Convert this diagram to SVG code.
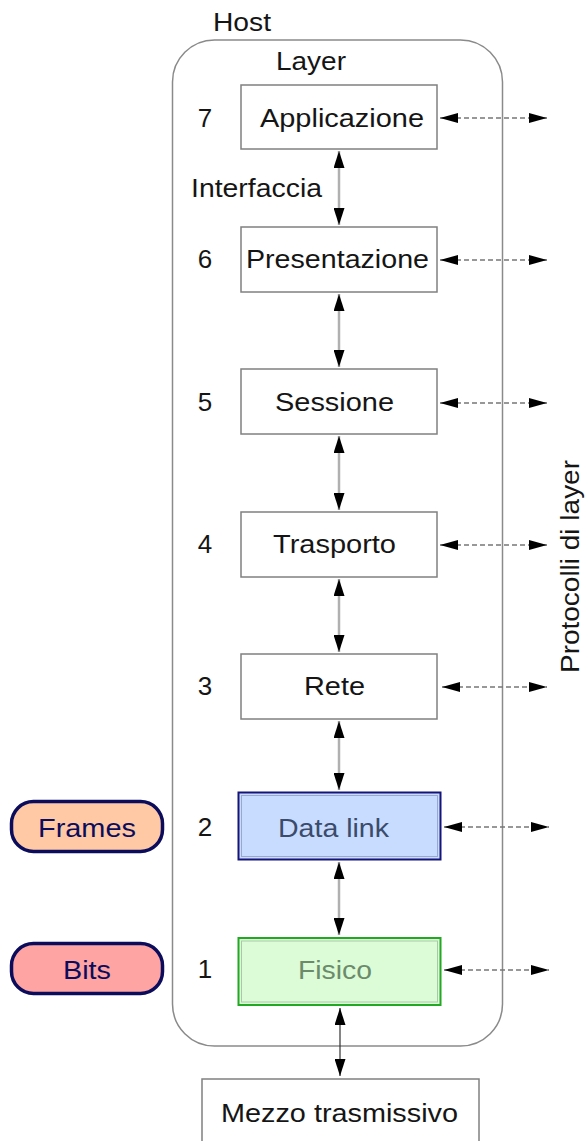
<svg xmlns="http://www.w3.org/2000/svg" width="587" height="1141" viewBox="0 0 587 1141">
<style>
text{font-family:"Liberation Sans",Arial,Helvetica,sans-serif;font-size:26px;fill:#151515}
.box{fill:#fff;stroke:#808080;stroke-width:1.5}
.num{text-anchor:middle}
.vline{stroke:#b0b0b0;stroke-width:2.5;fill:none}
.hline{stroke:#777;stroke-width:1.6;stroke-dasharray:5 3;fill:none}
.pill{stroke:#0c0c5c;stroke-width:3.5}
</style>
<defs>
<marker id="ah" viewBox="0 0 17 11" refX="17" refY="5.5" markerWidth="17" markerHeight="11" markerUnits="userSpaceOnUse" orient="auto-start-reverse">
<path d="M0,0 L17,5.5 L0,11 z" fill="#000"/>
</marker>
<marker id="hh" viewBox="0 0 18 10" refX="18" refY="5" markerWidth="18" markerHeight="10" markerUnits="userSpaceOnUse" orient="auto-start-reverse">
<path d="M0,0 L18,5 L0,10 z" fill="#000"/>
</marker>
</defs>
<rect width="587" height="1141" fill="#fff"/>

<g id="host">
<rect x="172.5" y="40" width="330" height="1006" rx="42" ry="42" fill="none" stroke="#8a8a8a" stroke-width="1.5"/>
<text x="213" y="31" textLength="58" lengthAdjust="spacingAndGlyphs">Host</text>
<text x="276" y="70" textLength="70" lengthAdjust="spacingAndGlyphs">Layer</text>
<text x="191" y="197" textLength="131" lengthAdjust="spacingAndGlyphs">Interfaccia</text>
</g>

<g id="protocolli">
<text transform="translate(579,673) rotate(-90)" textLength="213" lengthAdjust="spacingAndGlyphs">Protocolli di layer</text>
</g>

<g id="connectors">
<line class="vline" x1="339" y1="151" x2="339" y2="225" marker-start="url(#ah)" marker-end="url(#ah)"/>
<line class="vline" x1="339" y1="294" x2="339" y2="367" marker-start="url(#ah)" marker-end="url(#ah)"/>
<line class="vline" x1="339" y1="436" x2="339" y2="510" marker-start="url(#ah)" marker-end="url(#ah)"/>
<line class="vline" x1="339" y1="579" x2="339" y2="652" marker-start="url(#ah)" marker-end="url(#ah)"/>
<line class="vline" x1="339" y1="721" x2="339" y2="790" marker-start="url(#ah)" marker-end="url(#ah)"/>
<line class="vline" x1="339" y1="862" x2="339" y2="935" marker-start="url(#ah)" marker-end="url(#ah)"/>
<line x1="340" y1="1008" x2="340" y2="1076" stroke="#333" stroke-width="1.2" marker-start="url(#ah)" marker-end="url(#ah)"/>

<line class="hline" x1="440" y1="118" x2="547" y2="118" marker-start="url(#hh)" marker-end="url(#hh)"/>
<line class="hline" x1="440" y1="260" x2="547" y2="260" marker-start="url(#hh)" marker-end="url(#hh)"/>
<line class="hline" x1="440" y1="403" x2="547" y2="403" marker-start="url(#hh)" marker-end="url(#hh)"/>
<line class="hline" x1="440" y1="545" x2="547" y2="545" marker-start="url(#hh)" marker-end="url(#hh)"/>
<line class="hline" x1="442" y1="687" x2="547" y2="687" marker-start="url(#hh)" marker-end="url(#hh)"/>
<line class="hline" x1="444" y1="827" x2="549" y2="827" marker-start="url(#hh)" marker-end="url(#hh)"/>
<line class="hline" x1="444" y1="970" x2="549" y2="970" marker-start="url(#hh)" marker-end="url(#hh)"/>
</g>

<g id="layer7">
<rect class="box" x="241" y="85" width="196" height="64"/>
<text class="num" x="205" y="127">7</text>
<text x="260" y="127" textLength="164" lengthAdjust="spacingAndGlyphs">Applicazione</text>
</g>
<g id="layer6">
<rect class="box" x="241" y="227" width="196" height="65"/>
<text class="num" x="205" y="268">6</text>
<text x="246" y="268" textLength="183" lengthAdjust="spacingAndGlyphs">Presentazione</text>
</g>
<g id="layer5">
<rect class="box" x="241" y="369" width="196" height="65"/>
<text class="num" x="205" y="411">5</text>
<text x="275" y="411" textLength="119" lengthAdjust="spacingAndGlyphs">Sessione</text>
</g>
<g id="layer4">
<rect class="box" x="241" y="512" width="196" height="65"/>
<text class="num" x="205" y="553">4</text>
<text x="273" y="553" textLength="123" lengthAdjust="spacingAndGlyphs">Trasporto</text>
</g>
<g id="layer3">
<rect class="box" x="241" y="654" width="196" height="65"/>
<text class="num" x="205" y="695">3</text>
<text x="304" y="695" textLength="61" lengthAdjust="spacingAndGlyphs">Rete</text>
</g>
<g id="layer2">
<rect x="238.5" y="792.5" width="202" height="67" fill="#c8dcff" stroke="#14147a" stroke-width="2"/>
<rect x="241.5" y="795.5" width="196" height="61" fill="none" stroke="#9aa8d0" stroke-width="1"/>
<text class="num" x="205" y="836">2</text>
<text x="278" y="837" textLength="111" lengthAdjust="spacingAndGlyphs" style="fill:#3b4b6b">Data link</text>
</g>
<g id="layer1">
<rect x="238.5" y="938" width="202" height="67" fill="#dcfcd8" stroke="#22a822" stroke-width="2"/>
<rect x="241.5" y="941" width="196" height="61" fill="none" stroke="#a8c8a8" stroke-width="1"/>
<text class="num" x="205" y="978">1</text>
<text x="298" y="979" textLength="74" lengthAdjust="spacingAndGlyphs" style="fill:#6b8b6b">Fisico</text>
</g>
<g id="mezzo">
<rect class="box" x="202" y="1079" width="277" height="80"/>
<text x="221" y="1122" textLength="237" lengthAdjust="spacingAndGlyphs">Mezzo trasmissivo</text>
</g>
<g id="frames">
<rect class="pill" x="11.5" y="801.5" width="151" height="50" rx="22" fill="#fec9a4"/>
<text x="38" y="837" textLength="98" lengthAdjust="spacingAndGlyphs" style="fill:#0c0c5c">Frames</text>
</g>
<g id="bits">
<rect class="pill" x="11.5" y="943.5" width="151" height="50" rx="22" fill="#fea4a2"/>
<text x="63" y="979" textLength="48" lengthAdjust="spacingAndGlyphs" style="fill:#0c0c5c">Bits</text>
</g>
</svg>
